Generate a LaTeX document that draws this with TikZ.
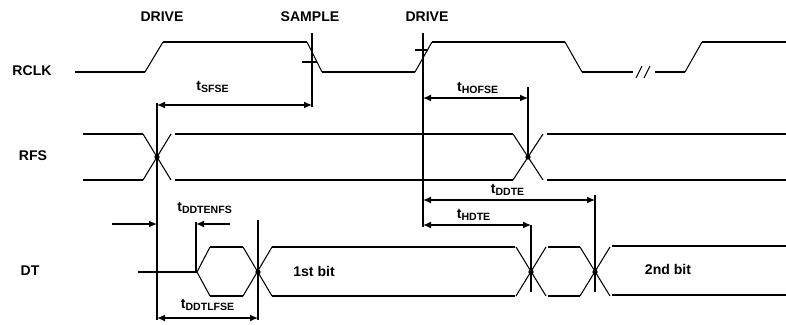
\documentclass[tikz,border=0pt]{standalone}
\usepackage{fontspec}
\setmainfont{Liberation Sans}
\usetikzlibrary{arrows.meta, positioning, calc}
\tikzset{
  sigline/.style={line width=1.1pt},
  edgeline/.style={line width=0.6pt},
  guideline/.style={line width=1.1pt},
  dimarrow/.style={
    {Latex[length=1.6mm,width=1.4mm]}-{Latex[length=1.6mm,width=1.4mm]},
    line width=0.8pt
  },
  onearrow/.style={-{Latex[length=1.6mm,width=1.4mm]}, line width=0.8pt},
  siglabel/.style={font=\fontsize{8}{9}\selectfont\bfseries, inner sep=1pt},
  timelabel/.style={font=\fontsize{8}{9}\selectfont\bfseries, inner sep=1pt},
  crossdot/.style={circle, fill, inner sep=0pt, minimum size=3pt},
}

\begin{document}
\begin{tikzpicture}[x=0.02cm, y=-0.02cm]
  \useasboundingbox (0,0) rectangle (786,324);

  % Edge names
  \node[siglabel] (drive1) at (162,17) {DRIVE};
  \node[siglabel] (sample) at (310,17) {SAMPLE};
  \node[siglabel] (drive2) at (427,17) {DRIVE};

  % Signal names
  \node[siglabel] (rclk) at (32,71) {RCLK};
  \node[siglabel] (rfs) at (33,156) {RFS};
  \node[siglabel] (dt) at (30,271) {DT};

  % RCLK
  \draw[sigline] (75,72) -- (145,72) (163,42) -- (307,42)
    (322,72) -- (415,72) (432,42) -- (565,42) (582,72) -- (633,72)
    (655,72) -- (685,72) (702,42) -- (786,42);
  \draw[edgeline] (145,72) -- (163,42) (307,42) -- (322,72)
    (415,72) -- (432,42) (565,42) -- (582,72) (685,72) -- (702,42);
  \draw[edgeline] (636,78) -- (642,66) (644,78) -- (650,66);
  \draw[edgeline] (302,62) -- (317,62) (415,50) -- (428,50);

  % RFS
  \draw[sigline] (83,134) -- (143,134) (83,180) -- (143,180)
    (175,134) -- (513,134) (175,180) -- (513,180)
    (547,134) -- (786,134) (547,180) -- (786,180);
  \draw[edgeline] (143,134) -- (171,180) (143,180) -- (171,134)
    (513,134) -- (543,180) (513,180) -- (543,134);
  \node[crossdot] (rfsx1) at (157,157) {};
  \node[crossdot] (rfsx2) at (528,157) {};

  % DT
  \draw[sigline] (138,272) -- (197,272)
    (210,247) -- (243,247) (210,296) -- (243,296)
    (272,247) -- (515,247) (272,296) -- (515,296)
    (548,247) -- (580,247) (548,296) -- (580,296)
    (612,246) -- (786,246) (612,295) -- (786,295);
  \draw[edgeline] (197,272) -- (210,247) (197,272) -- (210,296)
    (243,247) -- (272,296) (243,296) -- (272,247)
    (516,247) -- (546,296) (516,296) -- (546,247)
    (580,247) -- (610,296) (580,296) -- (610,247);
  \node[crossdot] (dtx1) at (258,272) {};
  \node[crossdot] (dtx2) at (531,272) {};
  \node[crossdot] (dtx3) at (595,272) {};
  \node[siglabel] (bit1) at (314,271) {1st bit};
  \node[siglabel] (bit2) at (668,269) {2nd bit};

  % Guide lines
  \coordinate (fsA) at (157,103);
  \coordinate (fsB) at (157,320);
  \coordinate (smA) at (312,33);
  \coordinate (smB) at (312,107);
  \coordinate (drA) at (423,33);
  \coordinate (drB) at (423,227);
  \coordinate (hoA) at (528,87);
  \coordinate (hoB) at (528,157);
  \coordinate (enA) at (196,222);
  \coordinate (enB) at (196,272);
  \coordinate (lfA) at (258,220);
  \coordinate (lfB) at (258,320);
  \coordinate (hdA) at (531,225);
  \coordinate (hdB) at (531,292);
  \coordinate (ddA) at (595,195);
  \coordinate (ddB) at (595,292);
  \foreach \a/\b in {fsA/fsB, smA/smB, drA/drB, hoA/hoB,
                     enA/enB, lfA/lfB, hdA/hdB, ddA/ddB}
    \draw[guideline] (\a) -- (\b);

  % Timing arrows
  \coordinate (sfseL) at (157,105);
  \coordinate (sfseR) at (312,105);
  \draw[dimarrow] (sfseL) -- (sfseR);
  \node[timelabel] (sfse) at (213,87) {t\textsubscript{SFSE}};

  \coordinate (hofseL) at (423,98);
  \coordinate (hofseR) at (528,98);
  \draw[dimarrow] (hofseL) -- (hofseR);
  \node[timelabel] (hofse) at (478,88) {t\textsubscript{HOFSE}};

  \coordinate (ddteL) at (423,200);
  \coordinate (ddteR) at (595,200);
  \draw[dimarrow] (ddteL) -- (ddteR);
  \node[timelabel] (ddte) at (508,190) {t\textsubscript{DDTE}};

  \coordinate (hdteL) at (423,225);
  \coordinate (hdteR) at (531,225);
  \draw[dimarrow] (hdteL) -- (hdteR);
  \node[timelabel] (hdte) at (474,215) {t\textsubscript{HDTE}};

  \coordinate (enfsL) at (112,224);
  \coordinate (enfsR) at (230,224);
  \draw[onearrow] (enfsL) -- (fsA |- enfsL);
  \draw[onearrow] (enfsR) -- (enA |- enfsR);
  \node[timelabel] (ddtenfs) at (205,208) {t\textsubscript{DDTENFS}};

  \coordinate (lfseL) at (157,318);
  \coordinate (lfseR) at (258,318);
  \draw[dimarrow] (lfseL) -- (lfseR);
  \node[timelabel] (ddtlfse) at (208,305) {t\textsubscript{DDTLFSE}};
\end{tikzpicture}
\end{document}
